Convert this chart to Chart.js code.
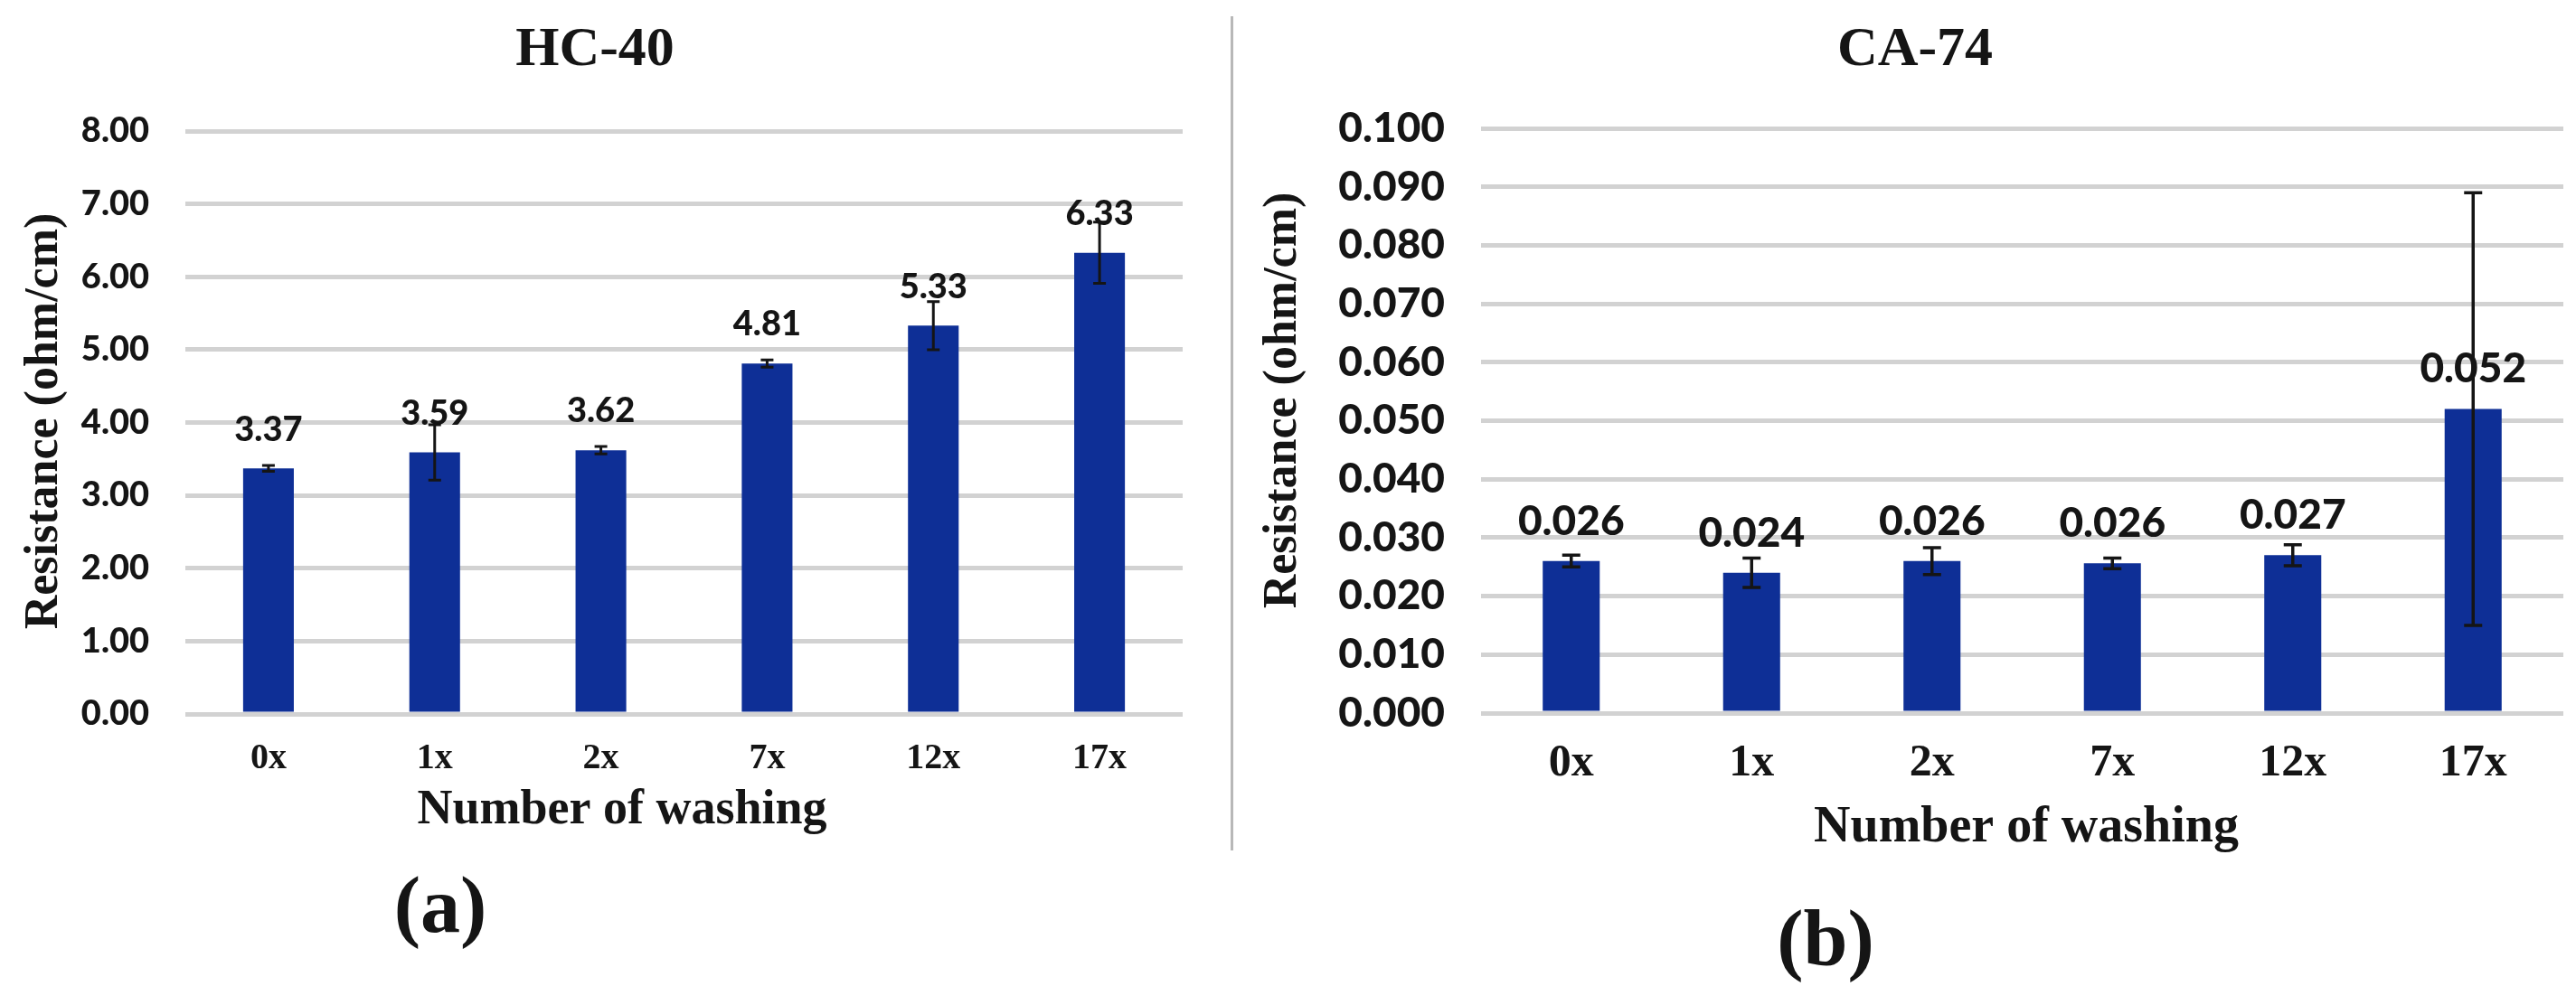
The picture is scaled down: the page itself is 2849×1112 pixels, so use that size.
<!DOCTYPE html>
<html>
<head>
<meta charset="utf-8">
<script src="https://cdn.jsdelivr.net/npm/chart.js@4.4.1/dist/chart.umd.min.js"></script>
<style>
  html, body { margin: 0; padding: 0; background: #fff; }
  #page { position: relative; width: 2849px; height: 1112px; overflow: hidden; }
  canvas { position: absolute; top: 0; }
  #hcChart { left: 0; }
  #caChart { left: 1362px; }
  #divider { position: absolute; left: 1361px; top: 18px; width: 3px; height: 923px; background: #b8b8b8; }
</style>
</head>
<body>
<div id="page">
  <canvas id="hcChart" width="1362" height="1112"></canvas>
  <div id="divider"></div>
  <canvas id="caChart" width="1487" height="1112"></canvas>
</div>
<script>
const washLabels = ["0x", "1x", "2x", "7x", "12x", "17x"];

const hcValues = [3.37, 3.59, 3.62, 4.81, 5.33, 6.33];
const hcErrors = [0.04, 0.38, 0.05, 0.05, 0.33, 0.42];
const hcAxisMax = 8;
const hcAxisStep = 1;

const caValues = [0.026, 0.024, 0.026, 0.0256, 0.027, 0.052];
const caErrors = [0.001, 0.0025, 0.0023, 0.0009, 0.0018, 0.037];
const caAxisMax = 0.1;
const caAxisStep = 0.01;

const barColor = "#0e2f96";
const inkColor = "#151515";
const serif = "'Liberation Serif', 'Times New Roman', serif";
const sans = "Lato, 'Open Sans', sans-serif";

// value labels, error bars and the free text of each panel
const overlay = {
  id: "overlay",
  afterDatasetsDraw(chart, args, opts) {
    const ctx = chart.ctx;
    const meta = chart.getDatasetMeta(0);
    const yScale = chart.scales.y;
    ctx.save();
    ctx.fillStyle = inkColor;
    ctx.font = opts.labelFont;
    ctx.textAlign = "center";
    ctx.textBaseline = "middle";
    meta.data.forEach((bar, i) => {
      ctx.fillText(opts.values[i].toFixed(opts.digits), bar.x, bar.y - opts.labelGap);
    });
    ctx.strokeStyle = inkColor;
    ctx.lineWidth = opts.errWidth;
    meta.data.forEach((bar, i) => {
      const hi = yScale.getPixelForValue(opts.values[i] + opts.errors[i]);
      const lo = yScale.getPixelForValue(opts.values[i] - opts.errors[i]);
      ctx.beginPath();
      ctx.moveTo(bar.x, hi);
      ctx.lineTo(bar.x, lo);
      ctx.moveTo(bar.x - opts.cap, hi);
      ctx.lineTo(bar.x + opts.cap, hi);
      ctx.moveTo(bar.x - opts.cap, lo);
      ctx.lineTo(bar.x + opts.cap, lo);
      ctx.stroke();
    });
    ctx.restore();
  },
  afterDraw(chart, args, opts) {
    const ctx = chart.ctx;
    ctx.save();
    ctx.fillStyle = inkColor;
    ctx.textAlign = "center";
    ctx.textBaseline = "middle";
    for (const t of opts.texts) {
      ctx.save();
      ctx.font = t.font;
      ctx.translate(t.x, t.y);
      if (t.rotate) {
        ctx.rotate(-Math.PI / 2);
      }
      ctx.fillText(t.text, 0, 0);
      ctx.restore();
    }
    ctx.restore();
  }
};

function makeChart(canvas, setup) {
  return new Chart(canvas.getContext("2d"), {
    type: "bar",
    data: {
      labels: washLabels,
      datasets: [
        {
          data: setup.values,
          backgroundColor: barColor,
          borderWidth: 0,
          categoryPercentage: 1,
          barPercentage: setup.barPercentage
        }
      ]
    },
    options: {
      responsive: false,
      animation: false,
      devicePixelRatio: 1,
      layout: {
        padding: { top: setup.area.top, right: canvas.width - setup.area.right, bottom: 0, left: 0 }
      },
      plugins: {
        legend: { display: false },
        tooltip: { enabled: false },
        overlay: {
          values: setup.values,
          errors: setup.errors,
          digits: setup.digits,
          labelFont: setup.labelFont,
          labelGap: setup.labelGap,
          errWidth: setup.errWidth,
          cap: setup.cap,
          texts: setup.texts
        }
      },
      scales: {
        x: {
          grid: { display: false, drawTicks: false },
          border: { display: false },
          ticks: {
            color: inkColor,
            padding: 26,
            font: { family: serif, size: setup.xFontSize, weight: "bold" }
          },
          afterFit(scale) {
            scale.height = canvas.height - setup.area.bottom;
          }
        },
        y: {
          min: 0,
          max: setup.axisMax,
          grid: { color: "#d2d2d2", lineWidth: 5, drawTicks: false },
          border: { display: false },
          ticks: {
            stepSize: setup.axisStep,
            color: inkColor,
            padding: 40,
            font: { family: sans, size: setup.yFontSize, weight: "900" },
            callback: (value) => Number(value).toFixed(setup.digits)
          },
          afterFit(scale) {
            scale.width = setup.area.left;
          }
        }
      }
    },
    plugins: [overlay]
  });
}

makeChart(document.querySelector("#hcChart"), {
  values: hcValues,
  errors: hcErrors,
  axisMax: hcAxisMax,
  axisStep: hcAxisStep,
  digits: 2,
  barPercentage: 0.305,
  area: { left: 205, right: 1308, top: 145, bottom: 790 },
  xFontSize: 40,
  yFontSize: 38,
  labelFont: `900 38px ${sans}`,
  labelGap: 43,
  errWidth: 3,
  cap: 7,
  texts: [
    { text: "HC-40", x: 658, y: 56, font: `bold 62px ${serif}` },
    { text: "Resistance (ohm/cm)", x: 50, y: 466, font: `bold 52px ${serif}`, rotate: true },
    { text: "Number of washing", x: 688, y: 897, font: `bold 54px ${serif}` },
    { text: "(a)", x: 487, y: 1008, font: `bold 88px ${serif}` }
  ]
});

makeChart(document.querySelector("#caChart"), {
  values: caValues,
  errors: caErrors,
  axisMax: caAxisMax,
  axisStep: caAxisStep,
  digits: 3,
  barPercentage: 0.316,
  area: { left: 276, right: 1473, top: 142, bottom: 789 },
  xFontSize: 50,
  yFontSize: 46,
  labelFont: `900 46px ${sans}`,
  labelGap: 44,
  errWidth: 3.5,
  cap: 10,
  texts: [
    { text: "CA-74", x: 756, y: 56, font: `bold 62px ${serif}` },
    { text: "Resistance (ohm/cm)", x: 58, y: 443, font: `bold 52px ${serif}`, rotate: true },
    { text: "Number of washing", x: 879, y: 917, font: `bold 56px ${serif}` },
    { text: "(b)", x: 657, y: 1045, font: `bold 88px ${serif}` }
  ]
});
</script>
</body>
</html>
